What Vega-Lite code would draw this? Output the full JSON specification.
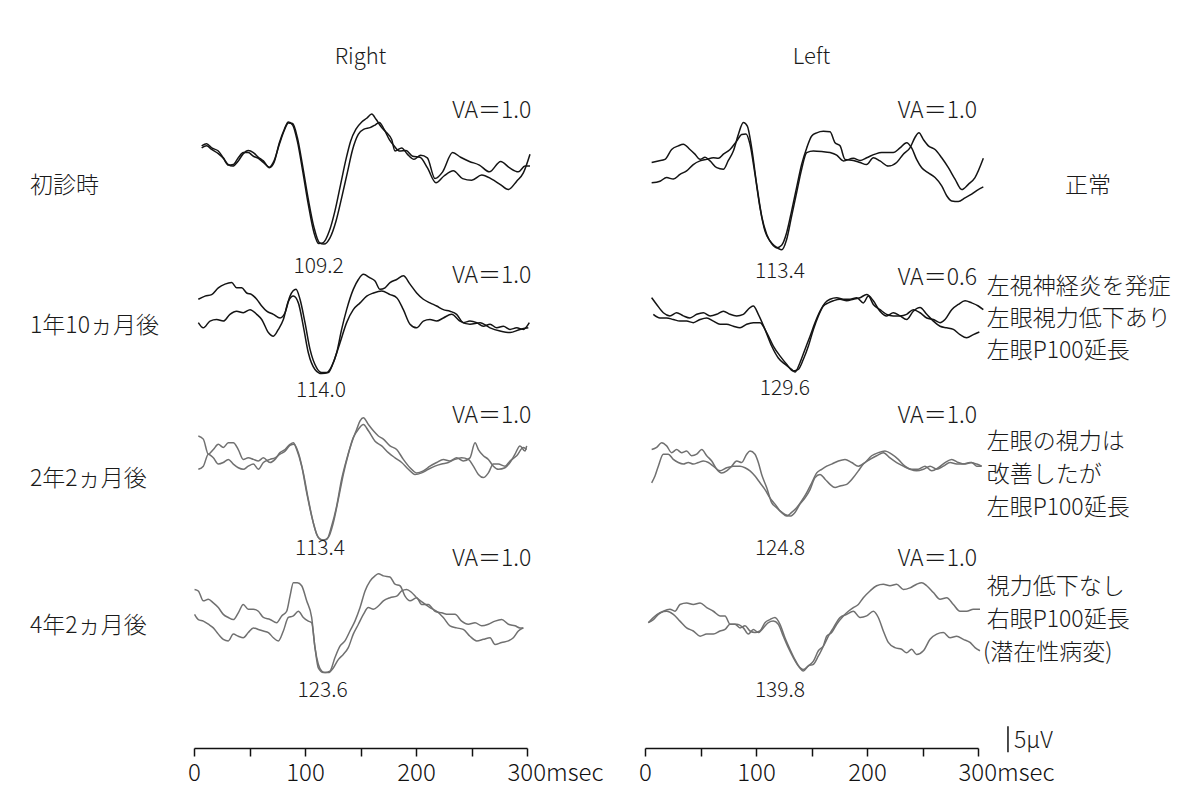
{
"$schema":"https://vega.github.io/schema/vega-lite/v6.json",
"background":"white",
"padding":{"left":30,"top":46,"right":5,"bottom":5},
"bounds":"flush",
"spacing":118,
"config":{"view":{"stroke":null},"font":"Noto Sans CJK JP","text":{"font":"Noto Sans CJK JP","color":"#1a1a1a","fontWeight":300},"title":{"font":"Noto Sans CJK JP"}},
"datasets":{
"traces":[
{"eye":"R","row":1,"run":1,"t":6.9,"v":115.8},{"eye":"R","row":1,"run":1,"t":11.4,"v":116.2},{"eye":"R","row":1,"run":1,"t":15.9,"v":115.4},{"eye":"R","row":1,"run":1,"t":21.9,"v":114.8},{"eye":"R","row":1,"run":1,"t":26.4,"v":113.5},{"eye":"R","row":1,"run":1,"t":30.9,"v":112.2},{"eye":"R","row":1,"run":1,"t":34.8,"v":111.9},{"eye":"R","row":1,"run":1,"t":39.9,"v":112.9},{"eye":"R","row":1,"run":1,"t":44.4,"v":114.3},{"eye":"R","row":1,"run":1,"t":48.9,"v":114.9},{"eye":"R","row":1,"run":1,"t":53.5,"v":114.5},{"eye":"R","row":1,"run":1,"t":58.0,"v":113.6},{"eye":"R","row":1,"run":1,"t":62.5,"v":112.9},{"eye":"R","row":1,"run":1,"t":67.9,"v":111.6},{"eye":"R","row":1,"run":1,"t":72.1,"v":112.6},{"eye":"R","row":1,"run":1,"t":76.9,"v":116.4},{"eye":"R","row":1,"run":1,"t":81.4,"v":119.0},{"eye":"R","row":1,"run":1,"t":85.0,"v":120.4},{"eye":"R","row":1,"run":1,"t":88.9,"v":119.8},{"eye":"R","row":1,"run":1,"t":93.1,"v":116.7},{"eye":"R","row":1,"run":1,"t":97.9,"v":111.0},{"eye":"R","row":1,"run":1,"t":103.0,"v":104.5},{"eye":"R","row":1,"run":1,"t":108.1,"v":99.1},{"eye":"R","row":1,"run":1,"t":112.3,"v":97.0},{"eye":"R","row":1,"run":1,"t":116.5,"v":97.2},{"eye":"R","row":1,"run":1,"t":121.9,"v":99.4},{"eye":"R","row":1,"run":1,"t":127.0,"v":103.3},{"eye":"R","row":1,"run":1,"t":132.1,"v":108.4},{"eye":"R","row":1,"run":1,"t":136.9,"v":113.2},{"eye":"R","row":1,"run":1,"t":141.1,"v":116.7},{"eye":"R","row":1,"run":1,"t":145.9,"v":119.0},{"eye":"R","row":1,"run":1,"t":151.1,"v":120.4},{"eye":"R","row":1,"run":1,"t":155.6,"v":121.1},{"eye":"R","row":1,"run":1,"t":160.1,"v":121.9},{"eye":"R","row":1,"run":1,"t":164.0,"v":120.9},{"eye":"R","row":1,"run":1,"t":169.1,"v":119.3},{"eye":"R","row":1,"run":1,"t":173.6,"v":118.3},{"eye":"R","row":1,"run":1,"t":178.1,"v":117.0},{"eye":"R","row":1,"run":1,"t":181.1,"v":114.8},{"eye":"R","row":1,"run":1,"t":187.1,"v":115.4},{"eye":"R","row":1,"run":1,"t":192.2,"v":114.2},{"eye":"R","row":1,"run":1,"t":198.2,"v":113.2},{"eye":"R","row":1,"run":1,"t":204.2,"v":114.0},{"eye":"R","row":1,"run":1,"t":210.2,"v":113.5},{"eye":"R","row":1,"run":1,"t":217.1,"v":109.5},{"eye":"R","row":1,"run":1,"t":224.0,"v":110.8},{"eye":"R","row":1,"run":1,"t":233.0,"v":114.5},{"eye":"R","row":1,"run":1,"t":240.2,"v":113.6},{"eye":"R","row":1,"run":1,"t":248.1,"v":112.8},{"eye":"R","row":1,"run":1,"t":257.1,"v":112.1},{"eye":"R","row":1,"run":1,"t":266.1,"v":110.8},{"eye":"R","row":1,"run":1,"t":276.3,"v":112.8},{"eye":"R","row":1,"run":1,"t":284.1,"v":111.6},{"eye":"R","row":1,"run":1,"t":292.2,"v":110.8},{"eye":"R","row":1,"run":1,"t":298.2,"v":111.9},{"eye":"R","row":1,"run":1,"t":302.7,"v":111.9},
{"eye":"R","row":1,"run":2,"t":6.9,"v":115.4},{"eye":"R","row":1,"run":2,"t":11.4,"v":115.8},{"eye":"R","row":1,"run":2,"t":15.9,"v":115.1},{"eye":"R","row":1,"run":2,"t":21.9,"v":114.3},{"eye":"R","row":1,"run":2,"t":26.4,"v":113.4},{"eye":"R","row":1,"run":2,"t":30.9,"v":112.1},{"eye":"R","row":1,"run":2,"t":35.4,"v":112.2},{"eye":"R","row":1,"run":2,"t":39.9,"v":113.5},{"eye":"R","row":1,"run":2,"t":44.4,"v":114.5},{"eye":"R","row":1,"run":2,"t":48.9,"v":114.5},{"eye":"R","row":1,"run":2,"t":53.5,"v":113.8},{"eye":"R","row":1,"run":2,"t":58.0,"v":113.4},{"eye":"R","row":1,"run":2,"t":62.5,"v":112.6},{"eye":"R","row":1,"run":2,"t":67.9,"v":111.7},{"eye":"R","row":1,"run":2,"t":72.1,"v":112.9},{"eye":"R","row":1,"run":2,"t":76.9,"v":116.1},{"eye":"R","row":1,"run":2,"t":81.4,"v":118.8},{"eye":"R","row":1,"run":2,"t":85.0,"v":120.2},{"eye":"R","row":1,"run":2,"t":88.9,"v":120.1},{"eye":"R","row":1,"run":2,"t":93.1,"v":117.4},{"eye":"R","row":1,"run":2,"t":97.9,"v":111.9},{"eye":"R","row":1,"run":2,"t":103.0,"v":105.5},{"eye":"R","row":1,"run":2,"t":108.1,"v":100.1},{"eye":"R","row":1,"run":2,"t":112.9,"v":97.2},{"eye":"R","row":1,"run":2,"t":117.1,"v":96.9},{"eye":"R","row":1,"run":2,"t":122.5,"v":98.1},{"eye":"R","row":1,"run":2,"t":127.9,"v":101.3},{"eye":"R","row":1,"run":2,"t":133.0,"v":105.8},{"eye":"R","row":1,"run":2,"t":138.1,"v":110.6},{"eye":"R","row":1,"run":2,"t":142.9,"v":115.1},{"eye":"R","row":1,"run":2,"t":148.0,"v":118.0},{"eye":"R","row":1,"run":2,"t":153.2,"v":119.0},{"eye":"R","row":1,"run":2,"t":158.6,"v":119.3},{"eye":"R","row":1,"run":2,"t":163.1,"v":119.8},{"eye":"R","row":1,"run":2,"t":167.0,"v":120.3},{"eye":"R","row":1,"run":2,"t":171.2,"v":119.0},{"eye":"R","row":1,"run":2,"t":176.0,"v":117.0},{"eye":"R","row":1,"run":2,"t":180.2,"v":115.8},{"eye":"R","row":1,"run":2,"t":185.0,"v":114.8},{"eye":"R","row":1,"run":2,"t":191.0,"v":114.9},{"eye":"R","row":1,"run":2,"t":197.0,"v":113.8},{"eye":"R","row":1,"run":2,"t":203.6,"v":113.6},{"eye":"R","row":1,"run":2,"t":210.2,"v":111.6},{"eye":"R","row":1,"run":2,"t":218.0,"v":108.7},{"eye":"R","row":1,"run":2,"t":225.2,"v":110.0},{"eye":"R","row":1,"run":2,"t":233.6,"v":111.0},{"eye":"R","row":1,"run":2,"t":242.0,"v":109.5},{"eye":"R","row":1,"run":2,"t":250.2,"v":109.2},{"eye":"R","row":1,"run":2,"t":259.2,"v":110.2},{"eye":"R","row":1,"run":2,"t":268.2,"v":109.4},{"eye":"R","row":1,"run":2,"t":275.7,"v":108.4},{"eye":"R","row":1,"run":2,"t":283.2,"v":107.4},{"eye":"R","row":1,"run":2,"t":290.7,"v":109.0},{"eye":"R","row":1,"run":2,"t":296.7,"v":110.6},{"eye":"R","row":1,"run":2,"t":302.7,"v":114.2},
{"eye":"L","row":1,"run":1,"t":6.0,"v":112.6},{"eye":"L","row":1,"run":1,"t":12.0,"v":112.9},{"eye":"L","row":1,"run":1,"t":18.0,"v":113.2},{"eye":"L","row":1,"run":1,"t":24.0,"v":115.1},{"eye":"L","row":1,"run":1,"t":30.0,"v":115.8},{"eye":"L","row":1,"run":1,"t":34.5,"v":116.1},{"eye":"L","row":1,"run":1,"t":40.5,"v":115.1},{"eye":"L","row":1,"run":1,"t":45.0,"v":114.2},{"eye":"L","row":1,"run":1,"t":49.6,"v":113.2},{"eye":"L","row":1,"run":1,"t":54.1,"v":113.6},{"eye":"L","row":1,"run":1,"t":58.6,"v":112.9},{"eye":"L","row":1,"run":1,"t":64.6,"v":111.6},{"eye":"L","row":1,"run":1,"t":70.6,"v":111.3},{"eye":"L","row":1,"run":1,"t":75.1,"v":113.0},{"eye":"L","row":1,"run":1,"t":79.6,"v":114.8},{"eye":"L","row":1,"run":1,"t":84.1,"v":118.0},{"eye":"L","row":1,"run":1,"t":88.6,"v":120.3},{"eye":"L","row":1,"run":1,"t":92.2,"v":119.6},{"eye":"L","row":1,"run":1,"t":96.1,"v":115.4},{"eye":"L","row":1,"run":1,"t":100.6,"v":108.4},{"eye":"L","row":1,"run":1,"t":105.1,"v":102.3},{"eye":"L","row":1,"run":1,"t":109.6,"v":98.8},{"eye":"L","row":1,"run":1,"t":114.1,"v":97.0},{"eye":"L","row":1,"run":1,"t":118.6,"v":96.2},{"eye":"L","row":1,"run":1,"t":123.1,"v":96.7},{"eye":"L","row":1,"run":1,"t":127.6,"v":99.1},{"eye":"L","row":1,"run":1,"t":132.1,"v":103.3},{"eye":"L","row":1,"run":1,"t":136.6,"v":107.8},{"eye":"L","row":1,"run":1,"t":141.1,"v":112.2},{"eye":"L","row":1,"run":1,"t":145.7,"v":115.4},{"eye":"L","row":1,"run":1,"t":150.2,"v":117.7},{"eye":"L","row":1,"run":1,"t":154.7,"v":118.3},{"eye":"L","row":1,"run":1,"t":160.7,"v":118.6},{"eye":"L","row":1,"run":1,"t":166.7,"v":118.5},{"eye":"L","row":1,"run":1,"t":171.2,"v":116.4},{"eye":"L","row":1,"run":1,"t":175.7,"v":115.8},{"eye":"L","row":1,"run":1,"t":180.2,"v":113.2},{"eye":"L","row":1,"run":1,"t":187.7,"v":113.0},{"eye":"L","row":1,"run":1,"t":193.7,"v":112.6},{"eye":"L","row":1,"run":1,"t":199.7,"v":112.2},{"eye":"L","row":1,"run":1,"t":205.7,"v":113.5},{"eye":"L","row":1,"run":1,"t":211.7,"v":112.9},{"eye":"L","row":1,"run":1,"t":219.2,"v":111.9},{"eye":"L","row":1,"run":1,"t":226.7,"v":112.6},{"eye":"L","row":1,"run":1,"t":232.7,"v":114.2},{"eye":"L","row":1,"run":1,"t":238.7,"v":115.4},{"eye":"L","row":1,"run":1,"t":243.2,"v":117.4},{"eye":"L","row":1,"run":1,"t":246.8,"v":118.3},{"eye":"L","row":1,"run":1,"t":250.8,"v":117.0},{"eye":"L","row":1,"run":1,"t":255.3,"v":115.8},{"eye":"L","row":1,"run":1,"t":261.3,"v":115.1},{"eye":"L","row":1,"run":1,"t":267.3,"v":113.5},{"eye":"L","row":1,"run":1,"t":273.3,"v":111.6},{"eye":"L","row":1,"run":1,"t":279.3,"v":109.4},{"eye":"L","row":1,"run":1,"t":285.3,"v":107.4},{"eye":"L","row":1,"run":1,"t":291.3,"v":108.4},{"eye":"L","row":1,"run":1,"t":297.3,"v":109.7},{"eye":"L","row":1,"run":1,"t":304.8,"v":113.4},
{"eye":"L","row":1,"run":2,"t":6.0,"v":108.7},{"eye":"L","row":1,"run":2,"t":13.5,"v":109.0},{"eye":"L","row":1,"run":2,"t":19.5,"v":109.7},{"eye":"L","row":1,"run":2,"t":25.5,"v":109.4},{"eye":"L","row":1,"run":2,"t":31.5,"v":110.3},{"eye":"L","row":1,"run":2,"t":37.5,"v":111.0},{"eye":"L","row":1,"run":2,"t":43.5,"v":112.2},{"eye":"L","row":1,"run":2,"t":49.6,"v":112.9},{"eye":"L","row":1,"run":2,"t":55.6,"v":113.2},{"eye":"L","row":1,"run":2,"t":61.6,"v":113.5},{"eye":"L","row":1,"run":2,"t":66.1,"v":113.4},{"eye":"L","row":1,"run":2,"t":70.6,"v":114.2},{"eye":"L","row":1,"run":2,"t":76.6,"v":115.1},{"eye":"L","row":1,"run":2,"t":82.6,"v":116.7},{"eye":"L","row":1,"run":2,"t":87.1,"v":118.0},{"eye":"L","row":1,"run":2,"t":91.0,"v":118.1},{"eye":"L","row":1,"run":2,"t":94.6,"v":116.1},{"eye":"L","row":1,"run":2,"t":99.1,"v":110.3},{"eye":"L","row":1,"run":2,"t":103.6,"v":103.9},{"eye":"L","row":1,"run":2,"t":108.1,"v":99.4},{"eye":"L","row":1,"run":2,"t":112.6,"v":97.5},{"eye":"L","row":1,"run":2,"t":117.1,"v":96.5},{"eye":"L","row":1,"run":2,"t":123.1,"v":95.8},{"eye":"L","row":1,"run":2,"t":127.6,"v":97.8},{"eye":"L","row":1,"run":2,"t":132.1,"v":102.3},{"eye":"L","row":1,"run":2,"t":136.6,"v":106.8},{"eye":"L","row":1,"run":2,"t":141.1,"v":111.3},{"eye":"L","row":1,"run":2,"t":145.7,"v":114.5},{"eye":"L","row":1,"run":2,"t":151.7,"v":114.8},{"eye":"L","row":1,"run":2,"t":159.2,"v":114.7},{"eye":"L","row":1,"run":2,"t":166.7,"v":114.5},{"eye":"L","row":1,"run":2,"t":172.7,"v":114.0},{"eye":"L","row":1,"run":2,"t":178.7,"v":112.9},{"eye":"L","row":1,"run":2,"t":187.7,"v":113.4},{"eye":"L","row":1,"run":2,"t":193.7,"v":113.0},{"eye":"L","row":1,"run":2,"t":199.7,"v":113.5},{"eye":"L","row":1,"run":2,"t":207.2,"v":114.2},{"eye":"L","row":1,"run":2,"t":213.2,"v":114.5},{"eye":"L","row":1,"run":2,"t":223.7,"v":114.5},{"eye":"L","row":1,"run":2,"t":229.7,"v":115.4},{"eye":"L","row":1,"run":2,"t":235.7,"v":116.4},{"eye":"L","row":1,"run":2,"t":240.2,"v":115.4},{"eye":"L","row":1,"run":2,"t":244.7,"v":113.2},{"eye":"L","row":1,"run":2,"t":249.3,"v":111.6},{"eye":"L","row":1,"run":2,"t":255.3,"v":110.6},{"eye":"L","row":1,"run":2,"t":261.3,"v":109.7},{"eye":"L","row":1,"run":2,"t":267.3,"v":108.1},{"eye":"L","row":1,"run":2,"t":271.8,"v":106.2},{"eye":"L","row":1,"run":2,"t":276.3,"v":105.2},{"eye":"L","row":1,"run":2,"t":282.3,"v":105.1},{"eye":"L","row":1,"run":2,"t":288.3,"v":105.8},{"eye":"L","row":1,"run":2,"t":294.3,"v":106.5},{"eye":"L","row":1,"run":2,"t":298.8,"v":107.2},{"eye":"L","row":1,"run":2,"t":304.8,"v":107.9},
{"eye":"R","row":2,"run":1,"t":3.9,"v":86.3},{"eye":"R","row":2,"run":1,"t":9.9,"v":86.9},{"eye":"R","row":2,"run":1,"t":15.9,"v":87.2},{"eye":"R","row":2,"run":1,"t":21.9,"v":88.5},{"eye":"R","row":2,"run":1,"t":27.9,"v":89.2},{"eye":"R","row":2,"run":1,"t":33.9,"v":89.5},{"eye":"R","row":2,"run":1,"t":38.4,"v":88.5},{"eye":"R","row":2,"run":1,"t":42.9,"v":88.5},{"eye":"R","row":2,"run":1,"t":47.5,"v":87.5},{"eye":"R","row":2,"run":1,"t":52.0,"v":87.2},{"eye":"R","row":2,"run":1,"t":56.5,"v":86.3},{"eye":"R","row":2,"run":1,"t":61.0,"v":85.0},{"eye":"R","row":2,"run":1,"t":65.5,"v":84.0},{"eye":"R","row":2,"run":1,"t":71.5,"v":83.4},{"eye":"R","row":2,"run":1,"t":77.5,"v":82.7},{"eye":"R","row":2,"run":1,"t":82.0,"v":83.7},{"eye":"R","row":2,"run":1,"t":86.5,"v":86.9},{"eye":"R","row":2,"run":1,"t":91.9,"v":88.2},{"eye":"R","row":2,"run":1,"t":95.5,"v":86.3},{"eye":"R","row":2,"run":1,"t":100.0,"v":81.8},{"eye":"R","row":2,"run":1,"t":104.5,"v":76.7},{"eye":"R","row":2,"run":1,"t":110.5,"v":73.1},{"eye":"R","row":2,"run":1,"t":115.0,"v":72.2},{"eye":"R","row":2,"run":1,"t":119.5,"v":72.2},{"eye":"R","row":2,"run":1,"t":124.0,"v":73.4},{"eye":"R","row":2,"run":1,"t":128.5,"v":76.0},{"eye":"R","row":2,"run":1,"t":133.0,"v":80.5},{"eye":"R","row":2,"run":1,"t":137.5,"v":84.3},{"eye":"R","row":2,"run":1,"t":143.5,"v":88.2},{"eye":"R","row":2,"run":1,"t":148.1,"v":90.1},{"eye":"R","row":2,"run":1,"t":152.6,"v":91.1},{"eye":"R","row":2,"run":1,"t":158.6,"v":90.4},{"eye":"R","row":2,"run":1,"t":163.1,"v":89.8},{"eye":"R","row":2,"run":1,"t":167.6,"v":88.2},{"eye":"R","row":2,"run":1,"t":172.1,"v":88.5},{"eye":"R","row":2,"run":1,"t":176.6,"v":89.5},{"eye":"R","row":2,"run":1,"t":182.6,"v":90.1},{"eye":"R","row":2,"run":1,"t":188.6,"v":90.8},{"eye":"R","row":2,"run":1,"t":194.6,"v":89.2},{"eye":"R","row":2,"run":1,"t":200.6,"v":87.5},{"eye":"R","row":2,"run":1,"t":206.6,"v":86.3},{"eye":"R","row":2,"run":1,"t":212.6,"v":85.6},{"eye":"R","row":2,"run":1,"t":218.6,"v":85.0},{"eye":"R","row":2,"run":1,"t":224.6,"v":84.3},{"eye":"R","row":2,"run":1,"t":230.6,"v":84.0},{"eye":"R","row":2,"run":1,"t":236.6,"v":83.4},{"eye":"R","row":2,"run":1,"t":242.6,"v":81.8},{"eye":"R","row":2,"run":1,"t":248.6,"v":82.1},{"eye":"R","row":2,"run":1,"t":254.7,"v":81.8},{"eye":"R","row":2,"run":1,"t":260.7,"v":81.1},{"eye":"R","row":2,"run":1,"t":266.7,"v":81.5},{"eye":"R","row":2,"run":1,"t":272.7,"v":80.8},{"eye":"R","row":2,"run":1,"t":278.7,"v":81.1},{"eye":"R","row":2,"run":1,"t":284.7,"v":80.5},{"eye":"R","row":2,"run":1,"t":290.7,"v":80.8},{"eye":"R","row":2,"run":1,"t":296.7,"v":80.5},{"eye":"R","row":2,"run":1,"t":302.1,"v":81.8},
{"eye":"R","row":2,"run":2,"t":3.9,"v":81.8},{"eye":"R","row":2,"run":2,"t":8.4,"v":80.8},{"eye":"R","row":2,"run":2,"t":14.4,"v":82.1},{"eye":"R","row":2,"run":2,"t":20.4,"v":82.4},{"eye":"R","row":2,"run":2,"t":26.4,"v":82.1},{"eye":"R","row":2,"run":2,"t":32.4,"v":83.4},{"eye":"R","row":2,"run":2,"t":38.4,"v":84.0},{"eye":"R","row":2,"run":2,"t":44.4,"v":83.7},{"eye":"R","row":2,"run":2,"t":50.5,"v":84.3},{"eye":"R","row":2,"run":2,"t":56.5,"v":83.4},{"eye":"R","row":2,"run":2,"t":61.0,"v":82.4},{"eye":"R","row":2,"run":2,"t":67.0,"v":79.9},{"eye":"R","row":2,"run":2,"t":71.5,"v":79.2},{"eye":"R","row":2,"run":2,"t":76.0,"v":80.5},{"eye":"R","row":2,"run":2,"t":80.5,"v":82.4},{"eye":"R","row":2,"run":2,"t":85.0,"v":85.9},{"eye":"R","row":2,"run":2,"t":89.5,"v":86.9},{"eye":"R","row":2,"run":2,"t":94.0,"v":85.6},{"eye":"R","row":2,"run":2,"t":98.5,"v":81.1},{"eye":"R","row":2,"run":2,"t":103.0,"v":76.0},{"eye":"R","row":2,"run":2,"t":109.0,"v":72.8},{"eye":"R","row":2,"run":2,"t":115.0,"v":72.0},{"eye":"R","row":2,"run":2,"t":121.0,"v":72.2},{"eye":"R","row":2,"run":2,"t":125.5,"v":74.1},{"eye":"R","row":2,"run":2,"t":131.5,"v":77.9},{"eye":"R","row":2,"run":2,"t":137.5,"v":81.8},{"eye":"R","row":2,"run":2,"t":143.5,"v":84.3},{"eye":"R","row":2,"run":2,"t":149.6,"v":85.6},{"eye":"R","row":2,"run":2,"t":155.6,"v":86.9},{"eye":"R","row":2,"run":2,"t":161.6,"v":87.5},{"eye":"R","row":2,"run":2,"t":169.1,"v":87.9},{"eye":"R","row":2,"run":2,"t":176.6,"v":87.2},{"eye":"R","row":2,"run":2,"t":182.6,"v":86.6},{"eye":"R","row":2,"run":2,"t":188.6,"v":84.3},{"eye":"R","row":2,"run":2,"t":194.6,"v":81.5},{"eye":"R","row":2,"run":2,"t":200.6,"v":80.8},{"eye":"R","row":2,"run":2,"t":206.6,"v":82.1},{"eye":"R","row":2,"run":2,"t":212.6,"v":82.4},{"eye":"R","row":2,"run":2,"t":218.6,"v":82.1},{"eye":"R","row":2,"run":2,"t":224.6,"v":82.7},{"eye":"R","row":2,"run":2,"t":232.1,"v":83.4},{"eye":"R","row":2,"run":2,"t":239.6,"v":82.1},{"eye":"R","row":2,"run":2,"t":248.6,"v":81.5},{"eye":"R","row":2,"run":2,"t":257.7,"v":81.8},{"eye":"R","row":2,"run":2,"t":266.7,"v":80.8},{"eye":"R","row":2,"run":2,"t":275.7,"v":80.2},{"eye":"R","row":2,"run":2,"t":284.7,"v":79.9},{"eye":"R","row":2,"run":2,"t":293.7,"v":80.5},{"eye":"R","row":2,"run":2,"t":301.2,"v":80.8},
{"eye":"L","row":2,"run":1,"t":6.0,"v":86.6},{"eye":"L","row":2,"run":1,"t":10.5,"v":85.3},{"eye":"L","row":2,"run":1,"t":16.5,"v":83.7},{"eye":"L","row":2,"run":1,"t":22.5,"v":83.1},{"eye":"L","row":2,"run":1,"t":28.5,"v":83.7},{"eye":"L","row":2,"run":1,"t":34.5,"v":83.1},{"eye":"L","row":2,"run":1,"t":40.5,"v":82.7},{"eye":"L","row":2,"run":1,"t":46.6,"v":83.4},{"eye":"L","row":2,"run":1,"t":52.6,"v":83.7},{"eye":"L","row":2,"run":1,"t":58.6,"v":83.1},{"eye":"L","row":2,"run":1,"t":64.6,"v":83.4},{"eye":"L","row":2,"run":1,"t":70.6,"v":84.0},{"eye":"L","row":2,"run":1,"t":76.6,"v":83.4},{"eye":"L","row":2,"run":1,"t":82.6,"v":83.1},{"eye":"L","row":2,"run":1,"t":88.6,"v":83.4},{"eye":"L","row":2,"run":1,"t":94.6,"v":84.7},{"eye":"L","row":2,"run":1,"t":97.6,"v":85.0},{"eye":"L","row":2,"run":1,"t":102.1,"v":83.4},{"eye":"L","row":2,"run":1,"t":108.1,"v":80.5},{"eye":"L","row":2,"run":1,"t":114.1,"v":77.3},{"eye":"L","row":2,"run":1,"t":120.1,"v":75.0},{"eye":"L","row":2,"run":1,"t":126.1,"v":73.8},{"eye":"L","row":2,"run":1,"t":132.1,"v":72.8},{"eye":"L","row":2,"run":1,"t":135.1,"v":72.3},{"eye":"L","row":2,"run":1,"t":139.6,"v":74.1},{"eye":"L","row":2,"run":1,"t":144.2,"v":76.7},{"eye":"L","row":2,"run":1,"t":148.7,"v":79.2},{"eye":"L","row":2,"run":1,"t":153.2,"v":81.8},{"eye":"L","row":2,"run":1,"t":157.7,"v":84.0},{"eye":"L","row":2,"run":1,"t":162.2,"v":85.6},{"eye":"L","row":2,"run":1,"t":166.7,"v":86.3},{"eye":"L","row":2,"run":1,"t":172.7,"v":86.6},{"eye":"L","row":2,"run":1,"t":178.7,"v":86.3},{"eye":"L","row":2,"run":1,"t":184.7,"v":86.3},{"eye":"L","row":2,"run":1,"t":190.7,"v":86.6},{"eye":"L","row":2,"run":1,"t":196.7,"v":85.6},{"eye":"L","row":2,"run":1,"t":201.2,"v":86.9},{"eye":"L","row":2,"run":1,"t":205.7,"v":85.3},{"eye":"L","row":2,"run":1,"t":211.7,"v":84.3},{"eye":"L","row":2,"run":1,"t":217.7,"v":83.4},{"eye":"L","row":2,"run":1,"t":223.7,"v":83.1},{"eye":"L","row":2,"run":1,"t":229.7,"v":83.1},{"eye":"L","row":2,"run":1,"t":235.7,"v":83.4},{"eye":"L","row":2,"run":1,"t":241.7,"v":84.3},{"eye":"L","row":2,"run":1,"t":247.8,"v":83.7},{"eye":"L","row":2,"run":1,"t":253.8,"v":82.7},{"eye":"L","row":2,"run":1,"t":259.8,"v":82.4},{"eye":"L","row":2,"run":1,"t":265.8,"v":81.8},{"eye":"L","row":2,"run":1,"t":270.3,"v":82.4},{"eye":"L","row":2,"run":1,"t":276.3,"v":84.3},{"eye":"L","row":2,"run":1,"t":282.3,"v":85.3},{"eye":"L","row":2,"run":1,"t":288.3,"v":86.0},{"eye":"L","row":2,"run":1,"t":294.3,"v":85.6},{"eye":"L","row":2,"run":1,"t":300.3,"v":85.0},{"eye":"L","row":2,"run":1,"t":304.8,"v":84.3},
{"eye":"L","row":2,"run":2,"t":7.5,"v":83.4},{"eye":"L","row":2,"run":2,"t":13.5,"v":82.7},{"eye":"L","row":2,"run":2,"t":19.5,"v":82.7},{"eye":"L","row":2,"run":2,"t":25.5,"v":82.4},{"eye":"L","row":2,"run":2,"t":31.5,"v":82.1},{"eye":"L","row":2,"run":2,"t":37.5,"v":82.1},{"eye":"L","row":2,"run":2,"t":43.5,"v":81.8},{"eye":"L","row":2,"run":2,"t":49.6,"v":82.4},{"eye":"L","row":2,"run":2,"t":55.6,"v":82.7},{"eye":"L","row":2,"run":2,"t":61.6,"v":82.1},{"eye":"L","row":2,"run":2,"t":67.6,"v":81.5},{"eye":"L","row":2,"run":2,"t":73.6,"v":81.5},{"eye":"L","row":2,"run":2,"t":79.6,"v":81.1},{"eye":"L","row":2,"run":2,"t":85.6,"v":80.8},{"eye":"L","row":2,"run":2,"t":91.6,"v":81.5},{"eye":"L","row":2,"run":2,"t":97.6,"v":81.8},{"eye":"L","row":2,"run":2,"t":103.6,"v":81.8},{"eye":"L","row":2,"run":2,"t":109.6,"v":79.9},{"eye":"L","row":2,"run":2,"t":115.6,"v":77.3},{"eye":"L","row":2,"run":2,"t":121.6,"v":75.4},{"eye":"L","row":2,"run":2,"t":127.6,"v":73.8},{"eye":"L","row":2,"run":2,"t":133.6,"v":72.5},{"eye":"L","row":2,"run":2,"t":138.1,"v":72.8},{"eye":"L","row":2,"run":2,"t":142.6,"v":74.7},{"eye":"L","row":2,"run":2,"t":147.2,"v":77.3},{"eye":"L","row":2,"run":2,"t":151.7,"v":80.5},{"eye":"L","row":2,"run":2,"t":156.2,"v":83.1},{"eye":"L","row":2,"run":2,"t":160.7,"v":85.0},{"eye":"L","row":2,"run":2,"t":165.2,"v":85.6},{"eye":"L","row":2,"run":2,"t":169.7,"v":86.0},{"eye":"L","row":2,"run":2,"t":175.7,"v":86.3},{"eye":"L","row":2,"run":2,"t":181.7,"v":86.0},{"eye":"L","row":2,"run":2,"t":187.7,"v":86.3},{"eye":"L","row":2,"run":2,"t":193.7,"v":86.6},{"eye":"L","row":2,"run":2,"t":199.7,"v":87.2},{"eye":"L","row":2,"run":2,"t":205.7,"v":86.0},{"eye":"L","row":2,"run":2,"t":211.7,"v":84.0},{"eye":"L","row":2,"run":2,"t":217.7,"v":83.1},{"eye":"L","row":2,"run":2,"t":223.7,"v":83.7},{"eye":"L","row":2,"run":2,"t":229.7,"v":83.1},{"eye":"L","row":2,"run":2,"t":235.7,"v":82.4},{"eye":"L","row":2,"run":2,"t":241.7,"v":84.0},{"eye":"L","row":2,"run":2,"t":247.8,"v":84.7},{"eye":"L","row":2,"run":2,"t":253.8,"v":83.4},{"eye":"L","row":2,"run":2,"t":259.8,"v":82.1},{"eye":"L","row":2,"run":2,"t":265.8,"v":81.1},{"eye":"L","row":2,"run":2,"t":271.8,"v":80.8},{"eye":"L","row":2,"run":2,"t":277.8,"v":80.5},{"eye":"L","row":2,"run":2,"t":283.8,"v":79.5},{"eye":"L","row":2,"run":2,"t":289.8,"v":78.9},{"eye":"L","row":2,"run":2,"t":295.8,"v":79.5},{"eye":"L","row":2,"run":2,"t":301.2,"v":80.0},
{"eye":"R","row":3,"run":1,"t":3.9,"v":60.0},{"eye":"R","row":3,"run":1,"t":8.4,"v":59.4},{"eye":"R","row":3,"run":1,"t":12.9,"v":56.5},{"eye":"R","row":3,"run":1,"t":17.4,"v":57.4},{"eye":"R","row":3,"run":1,"t":21.9,"v":58.4},{"eye":"R","row":3,"run":1,"t":26.4,"v":57.8},{"eye":"R","row":3,"run":1,"t":30.9,"v":58.7},{"eye":"R","row":3,"run":1,"t":35.4,"v":58.7},{"eye":"R","row":3,"run":1,"t":39.9,"v":57.4},{"eye":"R","row":3,"run":1,"t":44.4,"v":55.5},{"eye":"R","row":3,"run":1,"t":48.9,"v":55.8},{"eye":"R","row":3,"run":1,"t":53.5,"v":55.5},{"eye":"R","row":3,"run":1,"t":58.0,"v":55.2},{"eye":"R","row":3,"run":1,"t":62.5,"v":55.8},{"eye":"R","row":3,"run":1,"t":68.5,"v":54.9},{"eye":"R","row":3,"run":1,"t":73.0,"v":55.5},{"eye":"R","row":3,"run":1,"t":77.5,"v":56.8},{"eye":"R","row":3,"run":1,"t":82.0,"v":57.4},{"eye":"R","row":3,"run":1,"t":86.5,"v":58.4},{"eye":"R","row":3,"run":1,"t":89.5,"v":58.7},{"eye":"R","row":3,"run":1,"t":92.5,"v":57.4},{"eye":"R","row":3,"run":1,"t":97.0,"v":54.2},{"eye":"R","row":3,"run":1,"t":101.5,"v":49.1},{"eye":"R","row":3,"run":1,"t":106.0,"v":44.6},{"eye":"R","row":3,"run":1,"t":110.5,"v":41.1},{"eye":"R","row":3,"run":1,"t":115.0,"v":40.0},{"eye":"R","row":3,"run":1,"t":119.5,"v":40.1},{"eye":"R","row":3,"run":1,"t":124.0,"v":42.7},{"eye":"R","row":3,"run":1,"t":128.5,"v":46.5},{"eye":"R","row":3,"run":1,"t":133.0,"v":51.7},{"eye":"R","row":3,"run":1,"t":137.5,"v":55.5},{"eye":"R","row":3,"run":1,"t":142.0,"v":58.7},{"eye":"R","row":3,"run":1,"t":146.6,"v":61.3},{"eye":"R","row":3,"run":1,"t":149.6,"v":62.9},{"eye":"R","row":3,"run":1,"t":152.6,"v":63.5},{"eye":"R","row":3,"run":1,"t":157.1,"v":62.2},{"eye":"R","row":3,"run":1,"t":161.6,"v":61.0},{"eye":"R","row":3,"run":1,"t":166.1,"v":60.0},{"eye":"R","row":3,"run":1,"t":170.6,"v":59.4},{"eye":"R","row":3,"run":1,"t":176.6,"v":58.1},{"eye":"R","row":3,"run":1,"t":182.6,"v":57.4},{"eye":"R","row":3,"run":1,"t":188.6,"v":55.5},{"eye":"R","row":3,"run":1,"t":194.6,"v":53.9},{"eye":"R","row":3,"run":1,"t":200.6,"v":52.9},{"eye":"R","row":3,"run":1,"t":206.6,"v":53.3},{"eye":"R","row":3,"run":1,"t":212.6,"v":54.2},{"eye":"R","row":3,"run":1,"t":218.6,"v":54.9},{"eye":"R","row":3,"run":1,"t":224.6,"v":55.5},{"eye":"R","row":3,"run":1,"t":230.6,"v":55.2},{"eye":"R","row":3,"run":1,"t":236.6,"v":55.8},{"eye":"R","row":3,"run":1,"t":242.6,"v":55.2},{"eye":"R","row":3,"run":1,"t":248.6,"v":55.8},{"eye":"R","row":3,"run":1,"t":253.2,"v":58.7},{"eye":"R","row":3,"run":1,"t":256.2,"v":57.4},{"eye":"R","row":3,"run":1,"t":260.7,"v":56.2},{"eye":"R","row":3,"run":1,"t":265.2,"v":55.5},{"eye":"R","row":3,"run":1,"t":269.7,"v":54.2},{"eye":"R","row":3,"run":1,"t":274.2,"v":53.6},{"eye":"R","row":3,"run":1,"t":280.2,"v":53.9},{"eye":"R","row":3,"run":1,"t":284.7,"v":54.9},{"eye":"R","row":3,"run":1,"t":289.2,"v":56.5},{"eye":"R","row":3,"run":1,"t":293.7,"v":58.1},{"eye":"R","row":3,"run":1,"t":298.2,"v":57.1},{"eye":"R","row":3,"run":1,"t":299.7,"v":58.1},
{"eye":"R","row":3,"run":2,"t":3.9,"v":53.6},{"eye":"R","row":3,"run":2,"t":8.4,"v":54.2},{"eye":"R","row":3,"run":2,"t":12.9,"v":56.5},{"eye":"R","row":3,"run":2,"t":17.4,"v":55.8},{"eye":"R","row":3,"run":2,"t":21.9,"v":54.6},{"eye":"R","row":3,"run":2,"t":26.4,"v":54.9},{"eye":"R","row":3,"run":2,"t":30.9,"v":55.5},{"eye":"R","row":3,"run":2,"t":35.4,"v":54.6},{"eye":"R","row":3,"run":2,"t":39.9,"v":53.9},{"eye":"R","row":3,"run":2,"t":44.4,"v":53.6},{"eye":"R","row":3,"run":2,"t":48.9,"v":54.2},{"eye":"R","row":3,"run":2,"t":53.5,"v":54.6},{"eye":"R","row":3,"run":2,"t":58.0,"v":53.6},{"eye":"R","row":3,"run":2,"t":62.5,"v":54.9},{"eye":"R","row":3,"run":2,"t":68.5,"v":55.5},{"eye":"R","row":3,"run":2,"t":73.0,"v":55.8},{"eye":"R","row":3,"run":2,"t":77.5,"v":56.5},{"eye":"R","row":3,"run":2,"t":82.0,"v":57.1},{"eye":"R","row":3,"run":2,"t":86.5,"v":58.2},{"eye":"R","row":3,"run":2,"t":90.1,"v":58.4},{"eye":"R","row":3,"run":2,"t":94.0,"v":56.8},{"eye":"R","row":3,"run":2,"t":98.5,"v":52.9},{"eye":"R","row":3,"run":2,"t":103.0,"v":47.8},{"eye":"R","row":3,"run":2,"t":107.5,"v":43.3},{"eye":"R","row":3,"run":2,"t":112.0,"v":40.5},{"eye":"R","row":3,"run":2,"t":116.5,"v":40.0},{"eye":"R","row":3,"run":2,"t":121.0,"v":40.5},{"eye":"R","row":3,"run":2,"t":125.5,"v":43.3},{"eye":"R","row":3,"run":2,"t":130.0,"v":47.8},{"eye":"R","row":3,"run":2,"t":134.5,"v":52.6},{"eye":"R","row":3,"run":2,"t":139.0,"v":56.5},{"eye":"R","row":3,"run":2,"t":143.5,"v":59.7},{"eye":"R","row":3,"run":2,"t":148.1,"v":61.3},{"eye":"R","row":3,"run":2,"t":152.6,"v":62.2},{"eye":"R","row":3,"run":2,"t":157.1,"v":61.0},{"eye":"R","row":3,"run":2,"t":163.1,"v":59.0},{"eye":"R","row":3,"run":2,"t":169.1,"v":58.1},{"eye":"R","row":3,"run":2,"t":175.1,"v":56.8},{"eye":"R","row":3,"run":2,"t":181.1,"v":55.8},{"eye":"R","row":3,"run":2,"t":187.1,"v":54.9},{"eye":"R","row":3,"run":2,"t":193.1,"v":53.6},{"eye":"R","row":3,"run":2,"t":199.1,"v":52.6},{"eye":"R","row":3,"run":2,"t":205.1,"v":52.9},{"eye":"R","row":3,"run":2,"t":211.1,"v":53.6},{"eye":"R","row":3,"run":2,"t":217.1,"v":54.2},{"eye":"R","row":3,"run":2,"t":223.1,"v":54.6},{"eye":"R","row":3,"run":2,"t":229.1,"v":54.9},{"eye":"R","row":3,"run":2,"t":235.1,"v":55.5},{"eye":"R","row":3,"run":2,"t":241.1,"v":55.8},{"eye":"R","row":3,"run":2,"t":247.1,"v":55.5},{"eye":"R","row":3,"run":2,"t":251.7,"v":54.2},{"eye":"R","row":3,"run":2,"t":256.2,"v":52.6},{"eye":"R","row":3,"run":2,"t":260.7,"v":52.0},{"eye":"R","row":3,"run":2,"t":265.2,"v":52.9},{"eye":"R","row":3,"run":2,"t":269.7,"v":54.6},{"eye":"R","row":3,"run":2,"t":274.2,"v":54.6},{"eye":"R","row":3,"run":2,"t":280.2,"v":54.2},{"eye":"R","row":3,"run":2,"t":284.7,"v":55.2},{"eye":"R","row":3,"run":2,"t":290.7,"v":56.2},{"eye":"R","row":3,"run":2,"t":296.7,"v":57.8},{"eye":"R","row":3,"run":2,"t":299.7,"v":57.4},
{"eye":"L","row":3,"run":1,"t":6.0,"v":57.4},{"eye":"L","row":3,"run":1,"t":10.5,"v":57.8},{"eye":"L","row":3,"run":1,"t":15.0,"v":58.7},{"eye":"L","row":3,"run":1,"t":19.5,"v":58.1},{"eye":"L","row":3,"run":1,"t":24.0,"v":56.8},{"eye":"L","row":3,"run":1,"t":28.5,"v":57.4},{"eye":"L","row":3,"run":1,"t":33.0,"v":56.8},{"eye":"L","row":3,"run":1,"t":37.5,"v":57.1},{"eye":"L","row":3,"run":1,"t":42.0,"v":56.2},{"eye":"L","row":3,"run":1,"t":46.6,"v":56.5},{"eye":"L","row":3,"run":1,"t":51.1,"v":57.4},{"eye":"L","row":3,"run":1,"t":55.6,"v":56.2},{"eye":"L","row":3,"run":1,"t":60.1,"v":55.2},{"eye":"L","row":3,"run":1,"t":64.6,"v":53.6},{"eye":"L","row":3,"run":1,"t":69.1,"v":52.9},{"eye":"L","row":3,"run":1,"t":73.6,"v":53.3},{"eye":"L","row":3,"run":1,"t":78.1,"v":54.2},{"eye":"L","row":3,"run":1,"t":82.6,"v":55.2},{"eye":"L","row":3,"run":1,"t":87.1,"v":54.9},{"eye":"L","row":3,"run":1,"t":91.6,"v":56.5},{"eye":"L","row":3,"run":1,"t":94.6,"v":57.1},{"eye":"L","row":3,"run":1,"t":99.1,"v":56.5},{"eye":"L","row":3,"run":1,"t":102.1,"v":54.9},{"eye":"L","row":3,"run":1,"t":105.1,"v":52.6},{"eye":"L","row":3,"run":1,"t":109.6,"v":50.1},{"eye":"L","row":3,"run":1,"t":114.1,"v":47.2},{"eye":"L","row":3,"run":1,"t":118.6,"v":46.2},{"eye":"L","row":3,"run":1,"t":123.1,"v":45.3},{"eye":"L","row":3,"run":1,"t":127.6,"v":44.6},{"eye":"L","row":3,"run":1,"t":132.1,"v":45.3},{"eye":"L","row":3,"run":1,"t":136.6,"v":46.2},{"eye":"L","row":3,"run":1,"t":141.1,"v":47.5},{"eye":"L","row":3,"run":1,"t":145.7,"v":49.1},{"eye":"L","row":3,"run":1,"t":150.2,"v":51.0},{"eye":"L","row":3,"run":1,"t":154.7,"v":52.9},{"eye":"L","row":3,"run":1,"t":159.2,"v":53.6},{"eye":"L","row":3,"run":1,"t":163.7,"v":54.2},{"eye":"L","row":3,"run":1,"t":168.2,"v":54.6},{"eye":"L","row":3,"run":1,"t":174.2,"v":55.2},{"eye":"L","row":3,"run":1,"t":180.2,"v":55.5},{"eye":"L","row":3,"run":1,"t":186.2,"v":54.9},{"eye":"L","row":3,"run":1,"t":192.2,"v":54.2},{"eye":"L","row":3,"run":1,"t":198.2,"v":54.9},{"eye":"L","row":3,"run":1,"t":204.2,"v":56.2},{"eye":"L","row":3,"run":1,"t":210.2,"v":56.8},{"eye":"L","row":3,"run":1,"t":216.2,"v":57.1},{"eye":"L","row":3,"run":1,"t":222.2,"v":56.5},{"eye":"L","row":3,"run":1,"t":228.2,"v":55.5},{"eye":"L","row":3,"run":1,"t":234.2,"v":54.2},{"eye":"L","row":3,"run":1,"t":240.2,"v":53.6},{"eye":"L","row":3,"run":1,"t":246.2,"v":53.6},{"eye":"L","row":3,"run":1,"t":252.3,"v":54.2},{"eye":"L","row":3,"run":1,"t":258.3,"v":53.3},{"eye":"L","row":3,"run":1,"t":264.3,"v":53.9},{"eye":"L","row":3,"run":1,"t":270.3,"v":54.9},{"eye":"L","row":3,"run":1,"t":276.3,"v":55.5},{"eye":"L","row":3,"run":1,"t":282.3,"v":54.9},{"eye":"L","row":3,"run":1,"t":288.3,"v":54.6},{"eye":"L","row":3,"run":1,"t":294.3,"v":54.9},{"eye":"L","row":3,"run":1,"t":298.8,"v":54.2},{"eye":"L","row":3,"run":1,"t":303.3,"v":54.2},
{"eye":"L","row":3,"run":2,"t":6.0,"v":51.0},{"eye":"L","row":3,"run":2,"t":9.0,"v":52.3},{"eye":"L","row":3,"run":2,"t":12.0,"v":54.2},{"eye":"L","row":3,"run":2,"t":16.5,"v":56.5},{"eye":"L","row":3,"run":2,"t":21.0,"v":56.5},{"eye":"L","row":3,"run":2,"t":25.5,"v":55.5},{"eye":"L","row":3,"run":2,"t":30.0,"v":54.9},{"eye":"L","row":3,"run":2,"t":34.5,"v":54.6},{"eye":"L","row":3,"run":2,"t":39.0,"v":54.9},{"eye":"L","row":3,"run":2,"t":43.5,"v":54.6},{"eye":"L","row":3,"run":2,"t":48.1,"v":54.9},{"eye":"L","row":3,"run":2,"t":52.6,"v":55.2},{"eye":"L","row":3,"run":2,"t":57.1,"v":54.9},{"eye":"L","row":3,"run":2,"t":61.6,"v":54.2},{"eye":"L","row":3,"run":2,"t":67.6,"v":53.3},{"eye":"L","row":3,"run":2,"t":73.6,"v":53.9},{"eye":"L","row":3,"run":2,"t":79.6,"v":54.2},{"eye":"L","row":3,"run":2,"t":85.6,"v":54.2},{"eye":"L","row":3,"run":2,"t":90.1,"v":53.9},{"eye":"L","row":3,"run":2,"t":94.6,"v":53.3},{"eye":"L","row":3,"run":2,"t":99.1,"v":52.3},{"eye":"L","row":3,"run":2,"t":103.6,"v":51.0},{"eye":"L","row":3,"run":2,"t":108.1,"v":49.7},{"eye":"L","row":3,"run":2,"t":112.6,"v":48.1},{"eye":"L","row":3,"run":2,"t":117.1,"v":46.9},{"eye":"L","row":3,"run":2,"t":121.6,"v":45.6},{"eye":"L","row":3,"run":2,"t":126.1,"v":44.9},{"eye":"L","row":3,"run":2,"t":130.6,"v":44.6},{"eye":"L","row":3,"run":2,"t":135.1,"v":45.3},{"eye":"L","row":3,"run":2,"t":139.6,"v":46.9},{"eye":"L","row":3,"run":2,"t":144.2,"v":48.1},{"eye":"L","row":3,"run":2,"t":148.7,"v":49.7},{"eye":"L","row":3,"run":2,"t":153.2,"v":52.0},{"eye":"L","row":3,"run":2,"t":157.7,"v":52.6},{"eye":"L","row":3,"run":2,"t":162.2,"v":51.7},{"eye":"L","row":3,"run":2,"t":166.7,"v":50.7},{"eye":"L","row":3,"run":2,"t":171.2,"v":50.1},{"eye":"L","row":3,"run":2,"t":175.7,"v":50.4},{"eye":"L","row":3,"run":2,"t":181.7,"v":50.7},{"eye":"L","row":3,"run":2,"t":187.7,"v":52.0},{"eye":"L","row":3,"run":2,"t":192.2,"v":53.3},{"eye":"L","row":3,"run":2,"t":196.7,"v":54.6},{"eye":"L","row":3,"run":2,"t":202.7,"v":55.5},{"eye":"L","row":3,"run":2,"t":208.7,"v":56.2},{"eye":"L","row":3,"run":2,"t":214.7,"v":56.8},{"eye":"L","row":3,"run":2,"t":220.7,"v":55.8},{"eye":"L","row":3,"run":2,"t":226.7,"v":54.9},{"eye":"L","row":3,"run":2,"t":232.7,"v":54.2},{"eye":"L","row":3,"run":2,"t":238.7,"v":53.6},{"eye":"L","row":3,"run":2,"t":244.7,"v":53.3},{"eye":"L","row":3,"run":2,"t":250.8,"v":53.6},{"eye":"L","row":3,"run":2,"t":256.8,"v":54.2},{"eye":"L","row":3,"run":2,"t":262.8,"v":53.6},{"eye":"L","row":3,"run":2,"t":268.8,"v":54.2},{"eye":"L","row":3,"run":2,"t":274.8,"v":54.9},{"eye":"L","row":3,"run":2,"t":280.8,"v":54.6},{"eye":"L","row":3,"run":2,"t":286.8,"v":54.6},{"eye":"L","row":3,"run":2,"t":292.8,"v":54.9},{"eye":"L","row":3,"run":2,"t":298.8,"v":54.6},{"eye":"L","row":3,"run":2,"t":303.3,"v":54.2},
{"eye":"R","row":4,"run":1,"t":0.5,"v":30.5},{"eye":"R","row":4,"run":1,"t":3.9,"v":30.2},{"eye":"R","row":4,"run":1,"t":8.4,"v":28.3},{"eye":"R","row":4,"run":1,"t":12.9,"v":28.6},{"eye":"R","row":4,"run":1,"t":17.4,"v":27.9},{"eye":"R","row":4,"run":1,"t":21.9,"v":27.0},{"eye":"R","row":4,"run":1,"t":26.4,"v":25.7},{"eye":"R","row":4,"run":1,"t":30.9,"v":25.1},{"eye":"R","row":4,"run":1,"t":35.4,"v":24.7},{"eye":"R","row":4,"run":1,"t":39.9,"v":26.0},{"eye":"R","row":4,"run":1,"t":44.4,"v":27.6},{"eye":"R","row":4,"run":1,"t":48.9,"v":26.7},{"eye":"R","row":4,"run":1,"t":53.5,"v":26.7},{"eye":"R","row":4,"run":1,"t":58.0,"v":26.3},{"eye":"R","row":4,"run":1,"t":62.5,"v":25.1},{"eye":"R","row":4,"run":1,"t":68.5,"v":24.7},{"eye":"R","row":4,"run":1,"t":74.5,"v":24.1},{"eye":"R","row":4,"run":1,"t":79.0,"v":25.4},{"eye":"R","row":4,"run":1,"t":83.5,"v":26.3},{"eye":"R","row":4,"run":1,"t":86.5,"v":29.2},{"eye":"R","row":4,"run":1,"t":89.5,"v":31.8},{"eye":"R","row":4,"run":1,"t":93.1,"v":31.8},{"eye":"R","row":4,"run":1,"t":97.0,"v":31.2},{"eye":"R","row":4,"run":1,"t":101.5,"v":28.3},{"eye":"R","row":4,"run":1,"t":106.0,"v":25.1},{"eye":"R","row":4,"run":1,"t":109.0,"v":19.3},{"eye":"R","row":4,"run":1,"t":112.0,"v":16.1},{"eye":"R","row":4,"run":1,"t":115.0,"v":14.8},{"eye":"R","row":4,"run":1,"t":118.0,"v":14.5},{"eye":"R","row":4,"run":1,"t":122.5,"v":14.8},{"eye":"R","row":4,"run":1,"t":127.0,"v":17.4},{"eye":"R","row":4,"run":1,"t":131.5,"v":19.6},{"eye":"R","row":4,"run":1,"t":136.0,"v":20.6},{"eye":"R","row":4,"run":1,"t":140.5,"v":22.5},{"eye":"R","row":4,"run":1,"t":145.0,"v":24.4},{"eye":"R","row":4,"run":1,"t":149.6,"v":27.0},{"eye":"R","row":4,"run":1,"t":154.1,"v":30.2},{"eye":"R","row":4,"run":1,"t":158.6,"v":32.1},{"eye":"R","row":4,"run":1,"t":163.1,"v":33.1},{"eye":"R","row":4,"run":1,"t":166.1,"v":33.5},{"eye":"R","row":4,"run":1,"t":170.6,"v":33.1},{"eye":"R","row":4,"run":1,"t":176.6,"v":32.9},{"eye":"R","row":4,"run":1,"t":181.1,"v":31.5},{"eye":"R","row":4,"run":1,"t":185.6,"v":31.2},{"eye":"R","row":4,"run":1,"t":190.1,"v":29.2},{"eye":"R","row":4,"run":1,"t":194.6,"v":28.3},{"eye":"R","row":4,"run":1,"t":200.6,"v":28.9},{"eye":"R","row":4,"run":1,"t":205.1,"v":27.6},{"eye":"R","row":4,"run":1,"t":211.1,"v":27.6},{"eye":"R","row":4,"run":1,"t":217.1,"v":26.3},{"eye":"R","row":4,"run":1,"t":223.1,"v":26.0},{"eye":"R","row":4,"run":1,"t":229.1,"v":25.7},{"eye":"R","row":4,"run":1,"t":235.1,"v":25.7},{"eye":"R","row":4,"run":1,"t":241.1,"v":24.4},{"eye":"R","row":4,"run":1,"t":247.1,"v":23.8},{"eye":"R","row":4,"run":1,"t":253.2,"v":24.1},{"eye":"R","row":4,"run":1,"t":259.2,"v":23.5},{"eye":"R","row":4,"run":1,"t":265.2,"v":23.8},{"eye":"R","row":4,"run":1,"t":271.2,"v":24.4},{"eye":"R","row":4,"run":1,"t":277.2,"v":24.7},{"eye":"R","row":4,"run":1,"t":283.2,"v":23.8},{"eye":"R","row":4,"run":1,"t":289.2,"v":23.5},{"eye":"R","row":4,"run":1,"t":293.7,"v":23.1},{"eye":"R","row":4,"run":1,"t":296.7,"v":23.1},
{"eye":"R","row":4,"run":2,"t":0.5,"v":25.7},{"eye":"R","row":4,"run":2,"t":3.9,"v":24.7},{"eye":"R","row":4,"run":2,"t":8.4,"v":24.4},{"eye":"R","row":4,"run":2,"t":12.9,"v":23.8},{"eye":"R","row":4,"run":2,"t":17.4,"v":23.1},{"eye":"R","row":4,"run":2,"t":21.9,"v":21.9},{"eye":"R","row":4,"run":2,"t":26.4,"v":20.9},{"eye":"R","row":4,"run":2,"t":30.9,"v":20.6},{"eye":"R","row":4,"run":2,"t":35.4,"v":21.9},{"eye":"R","row":4,"run":2,"t":39.9,"v":21.5},{"eye":"R","row":4,"run":2,"t":44.4,"v":21.2},{"eye":"R","row":4,"run":2,"t":48.9,"v":22.2},{"eye":"R","row":4,"run":2,"t":53.5,"v":23.1},{"eye":"R","row":4,"run":2,"t":58.0,"v":22.8},{"eye":"R","row":4,"run":2,"t":62.5,"v":22.5},{"eye":"R","row":4,"run":2,"t":67.0,"v":22.2},{"eye":"R","row":4,"run":2,"t":71.5,"v":21.2},{"eye":"R","row":4,"run":2,"t":76.0,"v":20.6},{"eye":"R","row":4,"run":2,"t":80.5,"v":22.5},{"eye":"R","row":4,"run":2,"t":85.0,"v":25.1},{"eye":"R","row":4,"run":2,"t":89.5,"v":25.4},{"eye":"R","row":4,"run":2,"t":94.0,"v":26.3},{"eye":"R","row":4,"run":2,"t":98.5,"v":25.1},{"eye":"R","row":4,"run":2,"t":103.0,"v":24.4},{"eye":"R","row":4,"run":2,"t":106.0,"v":24.1},{"eye":"R","row":4,"run":2,"t":109.0,"v":19.3},{"eye":"R","row":4,"run":2,"t":112.0,"v":15.4},{"eye":"R","row":4,"run":2,"t":116.5,"v":14.5},{"eye":"R","row":4,"run":2,"t":121.0,"v":14.5},{"eye":"R","row":4,"run":2,"t":125.5,"v":15.4},{"eye":"R","row":4,"run":2,"t":130.0,"v":17.0},{"eye":"R","row":4,"run":2,"t":134.5,"v":18.0},{"eye":"R","row":4,"run":2,"t":139.0,"v":19.3},{"eye":"R","row":4,"run":2,"t":143.5,"v":21.9},{"eye":"R","row":4,"run":2,"t":148.1,"v":23.8},{"eye":"R","row":4,"run":2,"t":152.6,"v":25.7},{"eye":"R","row":4,"run":2,"t":157.1,"v":27.0},{"eye":"R","row":4,"run":2,"t":161.6,"v":26.7},{"eye":"R","row":4,"run":2,"t":166.1,"v":27.3},{"eye":"R","row":4,"run":2,"t":170.6,"v":28.3},{"eye":"R","row":4,"run":2,"t":176.6,"v":28.9},{"eye":"R","row":4,"run":2,"t":182.6,"v":29.2},{"eye":"R","row":4,"run":2,"t":187.1,"v":30.2},{"eye":"R","row":4,"run":2,"t":191.6,"v":30.5},{"eye":"R","row":4,"run":2,"t":196.1,"v":29.9},{"eye":"R","row":4,"run":2,"t":200.6,"v":28.9},{"eye":"R","row":4,"run":2,"t":206.6,"v":27.9},{"eye":"R","row":4,"run":2,"t":212.6,"v":27.0},{"eye":"R","row":4,"run":2,"t":218.6,"v":26.3},{"eye":"R","row":4,"run":2,"t":224.6,"v":25.1},{"eye":"R","row":4,"run":2,"t":230.6,"v":23.5},{"eye":"R","row":4,"run":2,"t":236.6,"v":23.1},{"eye":"R","row":4,"run":2,"t":242.6,"v":22.8},{"eye":"R","row":4,"run":2,"t":248.6,"v":21.5},{"eye":"R","row":4,"run":2,"t":254.7,"v":20.6},{"eye":"R","row":4,"run":2,"t":260.7,"v":20.9},{"eye":"R","row":4,"run":2,"t":266.7,"v":21.2},{"eye":"R","row":4,"run":2,"t":271.2,"v":19.9},{"eye":"R","row":4,"run":2,"t":277.2,"v":20.3},{"eye":"R","row":4,"run":2,"t":283.2,"v":20.6},{"eye":"R","row":4,"run":2,"t":287.7,"v":21.2},{"eye":"R","row":4,"run":2,"t":292.2,"v":22.5},{"eye":"R","row":4,"run":2,"t":296.7,"v":23.1},
{"eye":"L","row":4,"run":1,"t":3.0,"v":24.1},{"eye":"L","row":4,"run":1,"t":7.5,"v":24.7},{"eye":"L","row":4,"run":1,"t":12.0,"v":25.7},{"eye":"L","row":4,"run":1,"t":16.5,"v":26.3},{"eye":"L","row":4,"run":1,"t":22.5,"v":26.7},{"eye":"L","row":4,"run":1,"t":27.0,"v":26.3},{"eye":"L","row":4,"run":1,"t":31.5,"v":27.6},{"eye":"L","row":4,"run":1,"t":37.5,"v":27.9},{"eye":"L","row":4,"run":1,"t":43.5,"v":27.6},{"eye":"L","row":4,"run":1,"t":49.6,"v":27.9},{"eye":"L","row":4,"run":1,"t":55.6,"v":27.0},{"eye":"L","row":4,"run":1,"t":61.6,"v":26.3},{"eye":"L","row":4,"run":1,"t":67.6,"v":25.4},{"eye":"L","row":4,"run":1,"t":72.1,"v":25.4},{"eye":"L","row":4,"run":1,"t":76.6,"v":23.8},{"eye":"L","row":4,"run":1,"t":81.1,"v":23.8},{"eye":"L","row":4,"run":1,"t":85.6,"v":23.1},{"eye":"L","row":4,"run":1,"t":90.1,"v":23.5},{"eye":"L","row":4,"run":1,"t":94.6,"v":22.5},{"eye":"L","row":4,"run":1,"t":99.1,"v":22.2},{"eye":"L","row":4,"run":1,"t":103.6,"v":22.5},{"eye":"L","row":4,"run":1,"t":108.1,"v":24.1},{"eye":"L","row":4,"run":1,"t":112.6,"v":24.7},{"eye":"L","row":4,"run":1,"t":117.1,"v":25.1},{"eye":"L","row":4,"run":1,"t":121.6,"v":23.8},{"eye":"L","row":4,"run":1,"t":126.1,"v":21.2},{"eye":"L","row":4,"run":1,"t":130.6,"v":19.0},{"eye":"L","row":4,"run":1,"t":135.1,"v":17.0},{"eye":"L","row":4,"run":1,"t":139.6,"v":15.4},{"eye":"L","row":4,"run":1,"t":142.6,"v":14.8},{"eye":"L","row":4,"run":1,"t":147.2,"v":15.8},{"eye":"L","row":4,"run":1,"t":151.7,"v":16.1},{"eye":"L","row":4,"run":1,"t":156.2,"v":17.7},{"eye":"L","row":4,"run":1,"t":160.7,"v":19.6},{"eye":"L","row":4,"run":1,"t":163.7,"v":21.5},{"eye":"L","row":4,"run":1,"t":168.2,"v":22.2},{"eye":"L","row":4,"run":1,"t":172.7,"v":23.8},{"eye":"L","row":4,"run":1,"t":178.7,"v":25.4},{"eye":"L","row":4,"run":1,"t":183.2,"v":26.3},{"eye":"L","row":4,"run":1,"t":187.7,"v":27.0},{"eye":"L","row":4,"run":1,"t":192.2,"v":27.6},{"eye":"L","row":4,"run":1,"t":196.7,"v":28.9},{"eye":"L","row":4,"run":1,"t":202.7,"v":30.2},{"eye":"L","row":4,"run":1,"t":208.7,"v":31.2},{"eye":"L","row":4,"run":1,"t":214.7,"v":31.5},{"eye":"L","row":4,"run":1,"t":220.7,"v":31.2},{"eye":"L","row":4,"run":1,"t":226.7,"v":31.5},{"eye":"L","row":4,"run":1,"t":232.7,"v":30.5},{"eye":"L","row":4,"run":1,"t":238.7,"v":30.8},{"eye":"L","row":4,"run":1,"t":244.7,"v":31.5},{"eye":"L","row":4,"run":1,"t":249.3,"v":31.8},{"eye":"L","row":4,"run":1,"t":253.8,"v":31.2},{"eye":"L","row":4,"run":1,"t":259.8,"v":29.9},{"eye":"L","row":4,"run":1,"t":265.8,"v":28.6},{"eye":"L","row":4,"run":1,"t":271.8,"v":28.9},{"eye":"L","row":4,"run":1,"t":277.8,"v":27.6},{"eye":"L","row":4,"run":1,"t":283.8,"v":26.3},{"eye":"L","row":4,"run":1,"t":289.8,"v":26.3},{"eye":"L","row":4,"run":1,"t":295.8,"v":26.7},{"eye":"L","row":4,"run":1,"t":301.8,"v":26.7},
{"eye":"L","row":4,"run":2,"t":3.0,"v":24.1},{"eye":"L","row":4,"run":2,"t":7.5,"v":25.1},{"eye":"L","row":4,"run":2,"t":13.5,"v":26.0},{"eye":"L","row":4,"run":2,"t":19.5,"v":26.3},{"eye":"L","row":4,"run":2,"t":25.5,"v":25.7},{"eye":"L","row":4,"run":2,"t":31.5,"v":24.4},{"eye":"L","row":4,"run":2,"t":37.5,"v":23.1},{"eye":"L","row":4,"run":2,"t":43.5,"v":22.5},{"eye":"L","row":4,"run":2,"t":49.6,"v":21.5},{"eye":"L","row":4,"run":2,"t":55.6,"v":21.9},{"eye":"L","row":4,"run":2,"t":61.6,"v":21.9},{"eye":"L","row":4,"run":2,"t":67.6,"v":22.5},{"eye":"L","row":4,"run":2,"t":72.1,"v":22.8},{"eye":"L","row":4,"run":2,"t":76.6,"v":23.8},{"eye":"L","row":4,"run":2,"t":82.6,"v":23.8},{"eye":"L","row":4,"run":2,"t":88.6,"v":23.1},{"eye":"L","row":4,"run":2,"t":93.1,"v":21.9},{"eye":"L","row":4,"run":2,"t":97.6,"v":22.8},{"eye":"L","row":4,"run":2,"t":102.1,"v":22.2},{"eye":"L","row":4,"run":2,"t":106.6,"v":23.1},{"eye":"L","row":4,"run":2,"t":111.1,"v":24.1},{"eye":"L","row":4,"run":2,"t":115.6,"v":24.4},{"eye":"L","row":4,"run":2,"t":120.1,"v":23.8},{"eye":"L","row":4,"run":2,"t":124.6,"v":21.5},{"eye":"L","row":4,"run":2,"t":129.1,"v":19.3},{"eye":"L","row":4,"run":2,"t":133.6,"v":17.4},{"eye":"L","row":4,"run":2,"t":138.1,"v":15.8},{"eye":"L","row":4,"run":2,"t":142.6,"v":15.1},{"eye":"L","row":4,"run":2,"t":147.2,"v":15.8},{"eye":"L","row":4,"run":2,"t":151.7,"v":16.7},{"eye":"L","row":4,"run":2,"t":156.2,"v":18.7},{"eye":"L","row":4,"run":2,"t":160.7,"v":19.6},{"eye":"L","row":4,"run":2,"t":165.2,"v":21.5},{"eye":"L","row":4,"run":2,"t":169.7,"v":23.1},{"eye":"L","row":4,"run":2,"t":175.7,"v":25.1},{"eye":"L","row":4,"run":2,"t":181.7,"v":25.7},{"eye":"L","row":4,"run":2,"t":187.7,"v":26.3},{"eye":"L","row":4,"run":2,"t":193.7,"v":25.1},{"eye":"L","row":4,"run":2,"t":199.7,"v":25.4},{"eye":"L","row":4,"run":2,"t":205.7,"v":26.3},{"eye":"L","row":4,"run":2,"t":210.2,"v":25.1},{"eye":"L","row":4,"run":2,"t":214.7,"v":22.5},{"eye":"L","row":4,"run":2,"t":219.2,"v":20.3},{"eye":"L","row":4,"run":2,"t":225.2,"v":19.3},{"eye":"L","row":4,"run":2,"t":231.2,"v":19.0},{"eye":"L","row":4,"run":2,"t":235.7,"v":18.3},{"eye":"L","row":4,"run":2,"t":240.2,"v":19.0},{"eye":"L","row":4,"run":2,"t":244.7,"v":18.0},{"eye":"L","row":4,"run":2,"t":250.8,"v":18.7},{"eye":"L","row":4,"run":2,"t":256.8,"v":20.9},{"eye":"L","row":4,"run":2,"t":262.8,"v":21.9},{"eye":"L","row":4,"run":2,"t":268.8,"v":22.2},{"eye":"L","row":4,"run":2,"t":274.8,"v":21.2},{"eye":"L","row":4,"run":2,"t":280.8,"v":21.5},{"eye":"L","row":4,"run":2,"t":286.8,"v":20.9},{"eye":"L","row":4,"run":2,"t":292.8,"v":20.3},{"eye":"L","row":4,"run":2,"t":297.3,"v":19.3},{"eye":"L","row":4,"run":2,"t":301.8,"v":18.7}
],
"labels":[
{"eye":"R","kind":"va","t":304,"v":122.5,"label":"VA＝1.0"},
{"eye":"R","kind":"va","t":304,"v":90.7,"label":"VA＝1.0"},
{"eye":"R","kind":"va","t":304,"v":63.9,"label":"VA＝1.0"},
{"eye":"R","kind":"va","t":304,"v":36.3,"label":"VA＝1.0"},
{"eye":"R","kind":"lat","t":112.2,"v":92.5,"label":"109.2"},
{"eye":"R","kind":"lat","t":114.4,"v":68.7,"label":"114.0"},
{"eye":"R","kind":"lat","t":113.5,"v":38.3,"label":"113.4"},
{"eye":"R","kind":"lat","t":115.8,"v":11.0,"label":"123.6"},
{"eye":"R","kind":"row","t":-147.7,"v":108.1,"label":"初診時"},
{"eye":"R","kind":"row","t":-147.7,"v":81.2,"label":"1年10ヵ月後"},
{"eye":"R","kind":"row","t":-147.7,"v":51.7,"label":"2年2ヵ月後"},
{"eye":"R","kind":"row","t":-147.7,"v":23.5,"label":"4年2ヵ月後"},
{"eye":"L","kind":"va","t":299.1,"v":122.5,"label":"VA＝1.0"},
{"eye":"L","kind":"va","t":299.1,"v":90.3,"label":"VA＝0.6"},
{"eye":"L","kind":"va","t":299.1,"v":63.9,"label":"VA＝1.0"},
{"eye":"L","kind":"va","t":299.1,"v":36.3,"label":"VA＝1.0"},
{"eye":"L","kind":"lat","t":121.6,"v":91.6,"label":"113.4"},
{"eye":"L","kind":"lat","t":126,"v":69.0,"label":"129.6"},
{"eye":"L","kind":"lat","t":121.6,"v":38.3,"label":"124.8"},
{"eye":"L","kind":"lat","t":121.6,"v":11.0,"label":"139.8"},
{"eye":"L","kind":"note","t":378.4,"v":108.1,"label":"正常"},
{"eye":"L","kind":"note","t":307.8,"v":88.7,"label":"左視神経炎を発症"},
{"eye":"L","kind":"note","t":307.8,"v":82.5,"label":"左眼視力低下あり"},
{"eye":"L","kind":"note","t":307.8,"v":76.3,"label":"左眼P100延長"},
{"eye":"L","kind":"note","t":307.8,"v":58.8,"label":"左眼の視力は"},
{"eye":"L","kind":"note","t":307.8,"v":52.5,"label":"改善したが"},
{"eye":"L","kind":"note","t":307.8,"v":46.2,"label":"左眼P100延長"},
{"eye":"L","kind":"note","t":307.8,"v":30.9,"label":"視力低下なし"},
{"eye":"L","kind":"note","t":307.8,"v":24.6,"label":"右眼P100延長"},
{"eye":"L","kind":"note","t":304.5,"v":18.3,"label":"(潜在性病変)"},
{"eye":"L","kind":"unit","t":332.4,"v":1.35,"label":"5μV"}
],
"bar":[{"t":327,"top":4.2,"bottom":-0.8}]
},
"hconcat":[
{
"width":333,"height":650,
"title":{"text":"Right","fontSize":22,"fontWeight":300,"offset":29,"color":"#1a1a1a"},
"layer":[
{"data":{"name":"traces"},"transform":[{"filter":"datum.eye == 'R'"}],
"mark":{"type":"line","strokeWidth":1.5,"interpolate":"monotone"},
"encoding":{
"x":{"field":"t","type":"quantitative","scale":{"domain":[0,300],"nice":false,"zero":false},
"axis":{"values":[0,50,100,150,200,250,300],"labelExpr":"datum.value % 100 == 0 ? (datum.value == 300 ? '300msec' : datum.label) : ''","title":null,"grid":false,"domainColor":"#111","domainWidth":1.5,"tickColor":"#111","tickWidth":1.5,"tickSize":8,"labelFontSize":24,"labelFontWeight":300,"labelColor":"#111","labelFont":"Noto Sans CJK JP","labelPadding":5,"labelFlush":false,"labelOverlap":false,"labelAlign":{"condition":{"test":"datum.value == 300","value":"left"},"value":"center"},"labelOffset":{"condition":{"test":"datum.value == 300","value":-20},"value":0}}},
"y":{"field":"v","type":"quantitative","scale":{"domain":[0,125],"nice":false,"zero":false},"axis":null},
"color":{"field":"row","type":"ordinal","scale":{"domain":[1,2,3,4],"range":["#141414","#141414","#707070","#707070"]},"legend":null},
"detail":{"field":"run"}}},
{"data":{"name":"labels"},"transform":[{"filter":"datum.eye == 'R' && datum.kind == 'lat'"}],
"mark":{"type":"text","align":"center","baseline":"middle","fontSize":21},
"encoding":{"x":{"field":"t","type":"quantitative","scale":{"domain":[0,300],"nice":false,"zero":false}},"y":{"field":"v","type":"quantitative","scale":{"domain":[0,125],"nice":false,"zero":false},"axis":null},"text":{"field":"label"}}},
{"data":{"name":"labels"},"transform":[{"filter":"datum.eye == 'R' && datum.kind == 'va'"}],
"mark":{"type":"text","align":"right","baseline":"middle","fontSize":23},
"encoding":{"x":{"field":"t","type":"quantitative","scale":{"domain":[0,300],"nice":false,"zero":false}},"y":{"field":"v","type":"quantitative","scale":{"domain":[0,125],"nice":false,"zero":false},"axis":null},"text":{"field":"label"}}},
{"data":{"name":"labels"},"transform":[{"filter":"datum.eye == 'R' && datum.kind == 'row'"}],
"mark":{"type":"text","align":"left","baseline":"middle","fontSize":23},
"encoding":{"x":{"field":"t","type":"quantitative","scale":{"domain":[0,300],"nice":false,"zero":false}},"y":{"field":"v","type":"quantitative","scale":{"domain":[0,125],"nice":false,"zero":false},"axis":null},"text":{"field":"label"}}}
]
},
{
"width":333,"height":650,
"title":{"text":"Left","fontSize":22,"fontWeight":300,"offset":29,"color":"#1a1a1a"},
"layer":[
{"data":{"name":"traces"},"transform":[{"filter":"datum.eye == 'L'"}],
"mark":{"type":"line","strokeWidth":1.5,"interpolate":"monotone"},
"encoding":{
"x":{"field":"t","type":"quantitative","scale":{"domain":[0,300],"nice":false,"zero":false},
"axis":{"values":[0,50,100,150,200,250,300],"labelExpr":"datum.value % 100 == 0 ? (datum.value == 300 ? '300msec' : datum.label) : ''","title":null,"grid":false,"domainColor":"#111","domainWidth":1.5,"tickColor":"#111","tickWidth":1.5,"tickSize":8,"labelFontSize":24,"labelFontWeight":300,"labelColor":"#111","labelFont":"Noto Sans CJK JP","labelPadding":5,"labelFlush":false,"labelOverlap":false,"labelAlign":{"condition":{"test":"datum.value == 300","value":"left"},"value":"center"},"labelOffset":{"condition":{"test":"datum.value == 300","value":-20},"value":0}}},
"y":{"field":"v","type":"quantitative","scale":{"domain":[0,125],"nice":false,"zero":false},"axis":null},
"color":{"field":"row","type":"ordinal","scale":{"domain":[1,2,3,4],"range":["#141414","#141414","#707070","#707070"]},"legend":null},
"detail":{"field":"run"}}},
{"data":{"name":"labels"},"transform":[{"filter":"datum.eye == 'L' && datum.kind == 'lat'"}],
"mark":{"type":"text","align":"center","baseline":"middle","fontSize":21},
"encoding":{"x":{"field":"t","type":"quantitative","scale":{"domain":[0,300],"nice":false,"zero":false}},"y":{"field":"v","type":"quantitative","scale":{"domain":[0,125],"nice":false,"zero":false},"axis":null},"text":{"field":"label"}}},
{"data":{"name":"labels"},"transform":[{"filter":"datum.eye == 'L' && datum.kind == 'va'"}],
"mark":{"type":"text","align":"right","baseline":"middle","fontSize":23},
"encoding":{"x":{"field":"t","type":"quantitative","scale":{"domain":[0,300],"nice":false,"zero":false}},"y":{"field":"v","type":"quantitative","scale":{"domain":[0,125],"nice":false,"zero":false},"axis":null},"text":{"field":"label"}}},
{"data":{"name":"labels"},"transform":[{"filter":"datum.eye == 'L' && (datum.kind == 'note' || datum.kind == 'unit')"}],
"mark":{"type":"text","align":"left","baseline":"middle","fontSize":23},
"encoding":{"x":{"field":"t","type":"quantitative","scale":{"domain":[0,300],"nice":false,"zero":false}},"y":{"field":"v","type":"quantitative","scale":{"domain":[0,125],"nice":false,"zero":false},"axis":null},"text":{"field":"label"}}},
{"data":{"name":"bar"},
"mark":{"type":"rule","strokeWidth":1.5,"color":"#111"},
"encoding":{"x":{"field":"t","type":"quantitative","scale":{"domain":[0,300],"nice":false,"zero":false}},"y":{"field":"top","type":"quantitative","scale":{"domain":[0,125],"nice":false,"zero":false},"axis":null},"y2":{"field":"bottom"}}}
]
}
]
}
